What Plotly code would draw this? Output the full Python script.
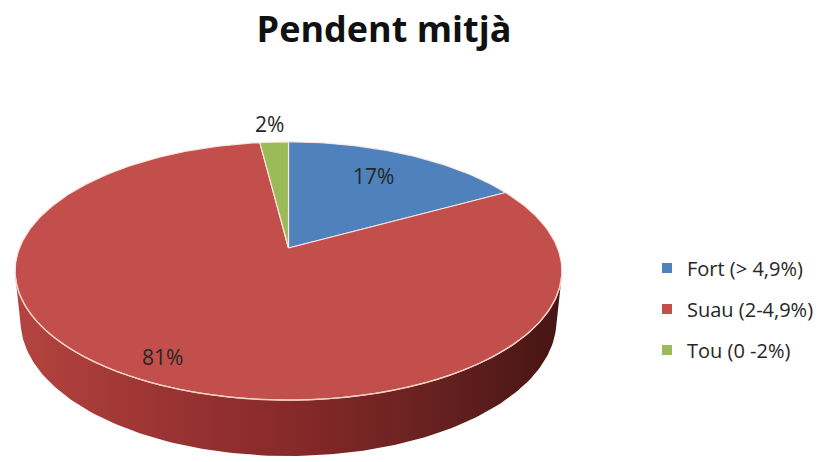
import math
import plotly.graph_objects as go

# ---- data ----
categories = ["Fort (> 4,9%)", "Suau (2-4,9%)", "Tou (0 -2%)"]
values = [17, 81, 2]
colors = ["#4f81bd", "#c24f4b", "#9bbb59"]
side_scales = [
    [[0, "#3b6496"], [1, "#1f3a5c"]],
    [[0, "#b5443f"], [0.25, "#9c3533"], [0.5, "#88292a"], [0.8, "#62201e"], [1, "#461514"]],
    [[0, "#7a9646"], [1, "#4c5e2a"]],
]
title_text = "Pendent mitjà"

# ---- geometry / projection (style constants) ----
W, H = 826, 462
CX, CY = 288.5, 248.0      # projected pie centre in pixels
A = 269.0                  # projected radius scale
ALPHA = math.radians(27.7) # elevation of view
U = 0.201                  # perspective strength (R/d)
DEPTH = 0.21               # thickness relative to radius
SA, CA = math.sin(ALPHA), math.cos(ALPHA)


def proj(theta_deg, r, yw):
    t = math.radians(theta_deg)
    x = r * math.sin(t)
    z = r * math.cos(t)
    yc = yw * CA + z * SA
    zc = z * CA - yw * SA
    den = 1 + U * zc
    return CX + A * x / den, CY - A * yc / den


total = sum(values)
bounds = []
acc = 0.0
for v in values:
    start = acc / total * 360.0
    acc += v
    bounds.append((start, acc / total * 360.0))

ts = math.degrees(math.acos(-U / CA))
vis_lo, vis_hi = ts, 360 - ts


def arc(a, b, r, yw, n=None):
    if n is None:
        n = max(4, int(abs(b - a) / 1.0) + 1)
    pts = [proj(a + (b - a) * i / (n - 1), r, yw) for i in range(n)]
    return [p[0] for p in pts], [p[1] for p in pts]


fig = go.Figure()

# side walls
for i, (a, b) in enumerate(bounds):
    lo, hi = max(a, vis_lo), min(b, vis_hi)
    if hi <= lo:
        continue
    tx, ty = arc(lo, hi, 1, 0)
    bx, by = arc(lo, hi, 1, -DEPTH)
    fig.add_trace(go.Scatter(
        x=tx + bx[::-1] + [tx[0]], y=ty + by[::-1] + [ty[0]],
        mode="lines", fill="toself", line=dict(width=0, color=colors[i]),
        fillgradient=dict(type="horizontal", colorscale=side_scales[i]),
        hoverinfo="skip", showlegend=False))

# top faces
for i, (a, b) in enumerate(bounds):
    ax_, ay_ = arc(a, b, 1, 0)
    c = proj(0, 0, 0)
    fig.add_trace(go.Scatter(
        x=[c[0]] + ax_ + [c[0]], y=[c[1]] + ay_ + [c[1]],
        mode="lines", fill="toself", fillcolor=colors[i],
        line=dict(width=1.2, color="rgba(255,236,228,0.9)"),
        hoverinfo="skip", showlegend=False))

# front rim highlight
rx, ry = arc(vis_lo, vis_hi, 1, 0)
fig.add_trace(go.Scatter(x=rx, y=ry, mode="lines",
                         line=dict(width=1.3, color="#f4cfc4"),
                         hoverinfo="skip", showlegend=False))

# legend entries
for i, name in enumerate(categories):
    fig.add_trace(go.Scatter(
        x=[None], y=[None], mode="markers", name=name, legendgroup=name,
        marker=dict(symbol="square", size=10, color=colors[i])))

# percentage labels
label_pos = [(373, 176), (162, 357), (269, 124)]
for i, v in enumerate(values):
    fig.add_annotation(x=label_pos[i][0], y=label_pos[i][1],
                       text=f"{round(v / total * 100)}%", showarrow=False,
                       font=dict(family="Open Sans", size=21, color="#262626"))

fig.update_layout(
    width=W, height=H,
    margin=dict(l=0, r=0, t=0, b=0),
    paper_bgcolor="white", plot_bgcolor="white",
    xaxis=dict(range=[0, W], visible=False, fixedrange=True),
    yaxis=dict(range=[H, 0], visible=False, fixedrange=True),
    title=dict(text=f"<b>{title_text}</b>", x=384 / W, xanchor="center",
               y=1 - 29 / H, yanchor="middle",
               font=dict(family="Open Sans", size=36, color="#111111")),
    legend=dict(x=647 / W, xanchor="left", y=1 - 309 / H, yanchor="middle",
                font=dict(family="Open Sans", size=20, color="#262626"),
                tracegroupgap=12, bgcolor="rgba(0,0,0,0)"),
    showlegend=True,
)

fig.write_html("out.html", config={"displayModeBar": False},
               post_script="document.body.style.margin='0';")
